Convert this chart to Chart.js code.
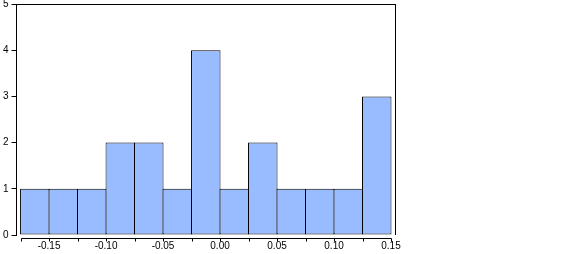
<!DOCTYPE html>
<html>
<head>
<meta charset="utf-8">
<script src="https://cdn.jsdelivr.net/npm/chart.js@4"></script>
<style>
  html, body { margin: 0; padding: 0; background: #fff; }
  #wrap { width: 568px; height: 254px; }
</style>
</head>
<body>
<div id="wrap"><canvas id="hist"></canvas></div>
<script>
// histogram bins (centres) and counts
var binCenters = [-0.1625, -0.1375, -0.1125, -0.0875, -0.0625, -0.0375, -0.0125,
                  0.0125, 0.0375, 0.0625, 0.0875, 0.1125, 0.1375];
var counts = [1, 1, 1, 2, 2, 1, 4, 1, 2, 1, 1, 1, 3];
// bin edges (minor ticks) and labelled ticks on the x axis
var binEdges = [-0.175, -0.15, -0.125, -0.10, -0.075, -0.05, -0.025,
                0.00, 0.025, 0.05, 0.075, 0.10, 0.125, 0.15];
var xLabels = [-0.15, -0.10, -0.05, 0.00, 0.05, 0.10, 0.15];
var yLabels = [0, 1, 2, 3, 4, 5];

var xFont = { family: 'Liberation Sans, Arial, sans-serif', size: 10, lineHeight: 1 };
var yFont = { family: 'Liberation Sans, Arial, sans-serif', size: 10, lineHeight: 0.2 };

// frame on top/right + offset x axis line with ticks at the bin edges
var framePlugin = {
    id: 'frame',
    afterDraw: function (chart) {
        var ctx = chart.ctx;
        var area = chart.chartArea;
        var xs = chart.scales.x, ys = chart.scales.y;
        var top = Math.round(ys.getPixelForValue(5)) + 0.5;
        var zero = Math.round(ys.getPixelForValue(0));
        var right = Math.round(area.right) + 0.5;
        ctx.save();
        ctx.strokeStyle = '#000';
        ctx.lineWidth = 1;
        ctx.beginPath();
        ctx.moveTo(Math.round(area.left), top);
        ctx.lineTo(right + 0.5, top);
        ctx.moveTo(right, top);
        ctx.lineTo(right, zero);
        // x axis, drawn a few px below the bars
        var axisY = zero + 3.5;
        var x0 = Math.round(xs.getPixelForValue(binEdges[0])) + 0.5;
        var x1 = Math.round(xs.getPixelForValue(binEdges[binEdges.length - 1])) + 0.5;
        ctx.moveTo(x0, axisY);
        ctx.lineTo(x1, axisY);
        binEdges.forEach(function (v) {
            var px = Math.round(xs.getPixelForValue(v)) + 0.5;
            ctx.moveTo(px, axisY);
            ctx.lineTo(px, axisY + 3);
        });
        ctx.stroke();
        ctx.restore();
    }
};

var ctx = document.getElementById('hist').getContext('2d');
var chart = new Chart(ctx, {
    type: 'bar',
    data: {
        datasets: [{
            data: binCenters.map(function (c, i) { return { x: c, y: counts[i] }; }),
            backgroundColor: '#99BBFF',
            borderColor: '#000',
            borderWidth: 1,
            borderSkipped: false,
            barPercentage: 1.035, // overlap by ~1px so neighbours share one edge line
            categoryPercentage: 1
        }]
    },
    options: {
        responsive: true,
        maintainAspectRatio: false,
        animation: false,
        layout: { padding: { top: 0, right: 173, bottom: -3, left: 0 } },
        scales: {
            x: {
                type: 'linear',
                offset: false,
                min: -0.1785,
                max: 0.1535,
                afterBuildTicks: function (scale) {
                    scale.ticks = xLabels.map(function (v) { return { value: v }; });
                },
                grid: { display: false, drawTicks: false, tickLength: 0 },
                border: { display: false },
                ticks: {
                    font: xFont,
                    color: '#000',
                    padding: 6,
                    maxRotation: 0,
                    autoSkip: false,
                    callback: function (v) { return Number(v).toFixed(2); }
                }
            },
            y: {
                min: 0,
                max: 5,
                afterBuildTicks: function (scale) {
                    scale.ticks = yLabels.map(function (v) { return { value: v }; });
                },
                grid: { display: true, drawOnChartArea: false, drawTicks: true, tickLength: 5, color: '#000' },
                border: { display: true, color: '#000', width: 1 },
                ticks: { font: yFont, color: '#000', padding: 3 }
            }
        },
        plugins: {
            legend: { display: false },
            tooltip: { enabled: false }
        }
    },
    plugins: [framePlugin]
});
</script>
</body>
</html>
